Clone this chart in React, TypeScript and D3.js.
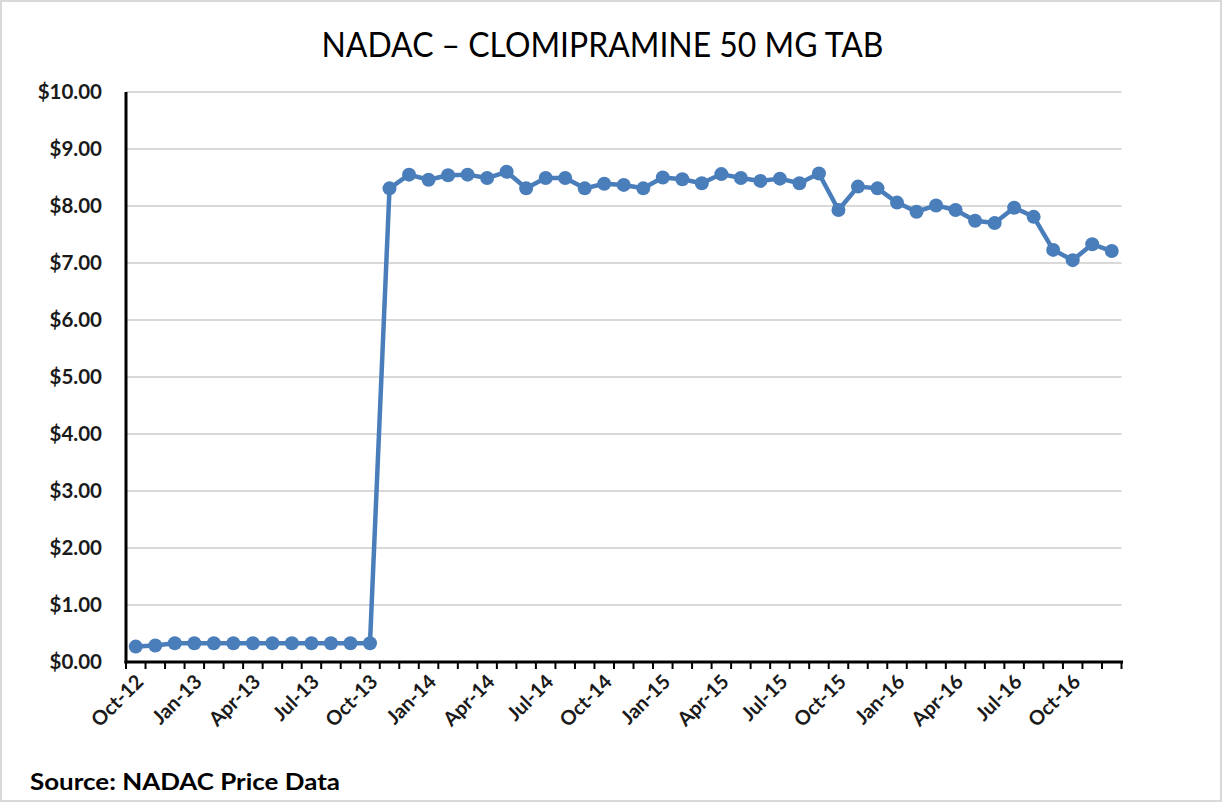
import React from "react";
import * as d3 from "d3";

const months: string[] = [
  "Oct-12", "Nov-12", "Dec-12",
  "Jan-13", "Feb-13", "Mar-13", "Apr-13", "May-13", "Jun-13", "Jul-13", "Aug-13", "Sep-13", "Oct-13", "Nov-13", "Dec-13",
  "Jan-14", "Feb-14", "Mar-14", "Apr-14", "May-14", "Jun-14", "Jul-14", "Aug-14", "Sep-14", "Oct-14", "Nov-14", "Dec-14",
  "Jan-15", "Feb-15", "Mar-15", "Apr-15", "May-15", "Jun-15", "Jul-15", "Aug-15", "Sep-15", "Oct-15", "Nov-15", "Dec-15",
  "Jan-16", "Feb-16", "Mar-16", "Apr-16", "May-16", "Jun-16", "Jul-16", "Aug-16", "Sep-16", "Oct-16", "Nov-16", "Dec-16",
];

const prices: number[] = [
  0.27, 0.29, 0.33,
  0.33, 0.33, 0.33, 0.33, 0.33, 0.33, 0.33, 0.33, 0.33, 0.33, 8.31, 8.55,
  8.46, 8.54, 8.55, 8.49, 8.60, 8.31, 8.49, 8.49, 8.31, 8.39, 8.37, 8.31,
  8.50, 8.47, 8.40, 8.56, 8.49, 8.44, 8.48, 8.40, 8.57, 7.93, 8.34, 8.31,
  8.06, 7.90, 8.01, 7.93, 7.74, 7.70, 7.97, 7.81, 7.23, 7.05, 7.33, 7.21,
];

const tickLabels: string[] = [
  "Oct-12", "Jan-13", "Apr-13", "Jul-13", "Oct-13", "Jan-14", "Apr-14", "Jul-14", "Oct-14",
  "Jan-15", "Apr-15", "Jul-15", "Oct-15", "Jan-16", "Apr-16", "Jul-16", "Oct-16",
];

const yTicks: number[] = [0, 1, 2, 3, 4, 5, 6, 7, 8, 9, 10];

const title = "NADAC \u2013 CLOMIPRAMINE 50 MG TAB";
const source = "Source: NADAC Price Data";

const W = 1225;
const H = 803;
const FONT = "Lato, 'Open Sans', sans-serif";
const BLUE = "#4A7EBB";

export default function App() {
  const x = d3.scaleBand<string>().domain(months).range([126, 1121.5]).padding(0);
  const y = d3.scaleLinear().domain([0, 10]).range([662, 92]);
  const bw = x.bandwidth();
  const cx = (m: string) => (x(m) as number) + bw / 2;

  const data = months.map((m, i) => ({ m, v: prices[i] }));
  const line = d3
    .line<{ m: string; v: number }>()
    .x((d) => cx(d.m))
    .y((d) => y(d.v));

  const boundaries = d3.range(months.length + 1).map((i) => 126 + i * bw);

  return (
    <svg
      width={W}
      height={H}
      style={{ position: "absolute", left: 0, top: 0, background: "#fff" }}
      fontFamily={FONT}
    >
      <rect x={1} y={1} width={W - 5} height={H - 3} fill="#fff" stroke="#d9d9d9" strokeWidth={2} />
      <text
        x={602.5}
        y={57}
        textAnchor="middle"
        fontSize={34}
        fill="#000"
        textLength={562}
        lengthAdjust="spacingAndGlyphs"
      >
        {title}
      </text>

      {yTicks.map((t) => (
        <line key={"g" + t} x1={126} x2={1121.5} y1={y(t)} y2={y(t)} stroke="#d9d9d9" strokeWidth={2} />
      ))}

      {yTicks.map((t) => (
        <text
          key={"yl" + t}
          x={102}
          y={y(t)}
          dy="0.36em"
          textAnchor="end"
          fontSize={20.5}
          fontWeight="bold"
          fill="#1a1a1a"
        >
          {d3.format("$.2f")(t)}
        </text>
      ))}

      <path d={line(data) || ""} fill="none" stroke={BLUE} strokeWidth={4.5} strokeLinejoin="round" />
      {data.map((d) => (
        <circle key={"c" + d.m} cx={cx(d.m)} cy={y(d.v)} r={7} fill={BLUE} />
      ))}

      <line x1={126} x2={126} y1={92} y2={663.5} stroke="#000" strokeWidth={3} />
      <line x1={124.5} x2={1123} y1={662} y2={662} stroke="#000" strokeWidth={3} />
      {boundaries.map((bx, i) => (
        <line key={"t" + i} x1={bx} x2={bx} y1={662} y2={669} stroke="#000" strokeWidth={2} />
      ))}

      {tickLabels.map((lbl) => {
        const px = cx(lbl);
        return (
          <text
            key={"xl" + lbl}
            transform={`translate(${px + 4},${678}) rotate(-45)`}
            textAnchor="end"
            dy="0.35em"
            fontSize={20}
            fontWeight="bold"
            fill="#1a1a1a"
          >
            {lbl}
          </text>
        );
      })}

      <text x={30} y={790} fontSize={23} fontWeight="bold" fill="#000" textLength={310} lengthAdjust="spacingAndGlyphs">
        {source}
      </text>
    </svg>
  );
}
